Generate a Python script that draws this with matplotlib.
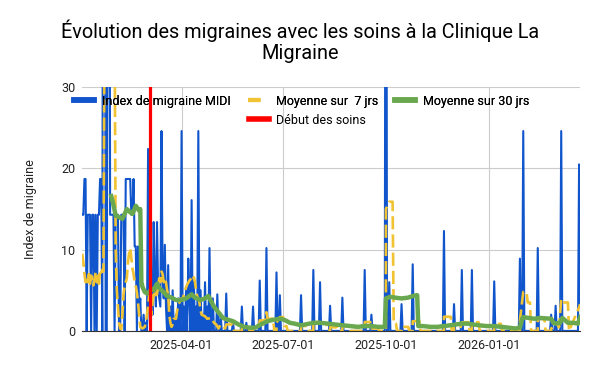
import matplotlib
matplotlib.use("Agg")
import matplotlib.pyplot as plt
from matplotlib.lines import Line2D
import pandas as pd

plt.rcParams['font.family'] = ['Roboto', 'DejaVu Sans']

# Données (jours comptés depuis le 2025-01-02)
debut = "2025-01-02"
nb_jours = 447

# Index de migraine MIDI : jours avec une valeur, 0 les autres jours
jours_midi = [0, 1, 2, 3, 5, 6, 7, 9, 10, 12, 14, 15, 16, 17, 19, 20, 23, 24, 25, 26, 27, 28,
              30, 31, 32, 35, 36, 37, 39, 40, 41, 42, 43, 44, 45, 46, 47, 48, 50, 51, 52, 55, 57,
              59, 60, 62, 63, 64, 65, 66, 67, 68, 69, 70, 71, 72, 73, 74, 75, 77,
              79, 81, 84, 86, 89, 91, 93, 95, 96, 98, 100, 102, 104, 106, 108, 110,
              112, 114, 117, 121, 124, 129, 135, 143, 147, 153, 159, 165, 174, 177,
              196, 207, 213, 222, 233, 253, 259, 272, 275, 286, 296, 324, 333, 340,
              349, 369, 392, 395, 408, 420, 424, 429, 445, 446]
index_midi = [14.3, 14.3, 18.7, 18.7, 14.3, 14.3, 14.3, 14.3, 14.3, 14.3, 14.3, 14.3, 18.7, 18.7, 95, 95, 60, 100, 14.3, 14.3, 14.3, 14.3,
              14.3, 14.3, 14.3, 14.3, 14.3, 14.3, 18.7, 18.7, 18.7, 18.7, 18.7, 14.3, 14.3, 18.7, 10.4, 10.4, 10.4, 2, 4, 2, 1,
              22.4, 3, 5, 2, 13.4, 6, 3, 13.4, 5, 4, 3, 24.6, 7, 4, 10.6, 3, 8.1,
              3, 5, 2, 4, 24.6, 3, 5, 8.9, 4, 16.1, 6, 3, 24.6, 5, 2, 6,
              3, 10.2, 4, 4.5, 2, 4.6, 1, 3.0, 1, 3.0, 6.2, 10.2, 7.2, 4.4,
              4.4, 7.5, 6.0, 3.1, 4.1, 7.5, 2.0, 105, 6.0, 3.3, 8.2, 12.3, 3.3, 7.5,
              7.5, 6.1, 8.9, 24.6, 10.2, 2.0, 3.1, 24.6, 20.5, 3.0]

# Moyenne sur 7 jours
jours_7j = [0, 1, 2, 3, 4, 5, 6, 7, 8, 9, 10, 11, 12, 13, 14, 15, 16, 17, 18, 19, 20, 29, 30, 31, 32, 33, 34, 35,
            36, 37, 38, 39, 40, 41, 42, 43, 44, 45, 46, 47, 48, 49, 50, 51, 52, 54, 56, 57, 58, 59, 60,
            61, 62, 63, 64, 65, 66, 67, 68, 69, 70, 71, 72, 73, 74, 75, 76, 77, 78, 79, 80, 81, 82, 84,
            85, 86, 87, 89, 90, 91, 92, 94, 96, 98, 99, 100, 101, 102, 103, 104, 105, 106, 107, 110, 112,
            116, 117, 118, 120, 122, 124, 126, 128, 129, 135, 136,
            143, 143, 149, 150, 153, 153, 158, 159, 164, 165, 166, 171, 172, 174, 174, 177, 180, 181, 183, 184,
            196, 196, 202, 203, 207, 207, 212, 213, 219, 220, 222, 222, 228, 229, 233, 233, 239, 240,
            253, 253, 258, 259, 265, 266, 272, 272, 275, 278, 279, 281, 282, 286, 286, 292, 293,
            296, 296, 302, 303, 324, 324, 330, 331, 333, 333, 339, 340, 346, 347, 349, 349, 355, 356,
            369, 369, 375, 376, 392, 392, 395, 398, 399, 401, 402, 408, 408, 414, 415,
            420, 420, 424, 426, 427, 429, 430, 435, 436, 445, 446]
moy_7j = [9.5, 8.5, 7, 6, 6.5, 6, 7, 5.8, 6.8, 6.2, 5.6, 6.4, 7.2, 6, 6.8, 5.8, 7.5, 7.2, 7.5, 7.3, 38, 38, 10, 5, 3, 1, 0.3, 0.2,
          2, 4.5, 5.5, 6, 6.5, 8.5, 9.6, 10.2, 9, 7.7, 7, 6, 5.5, 4.7, 3.5, 2, 0.5, 0.3, 0.5, 1, 2, 3, 4.5,
          4, 2, 3.5, 4.5, 4, 4.7, 4.5, 5.5, 6.5, 6, 7.3, 7, 6, 6.5, 6, 5, 4.5, 2, 1, 0.5, 0.8, 1.5, 1.5,
          2.5, 3, 3.5, 4, 3.8, 4.5, 5, 5.7, 6.2, 6.5, 6.2, 6.6, 6, 5, 4.3, 4, 3.5, 2.5, 2, 1.8, 1.5,
          1.6, 1.3, 1, 0.8, 0.3, 0.8, 0.6, 0.3, 0.8, 0.8, 0,
          0, 0.4, 0.4, 0, 0, 0.4, 0.4, 1.3, 1.3, 2.3, 1.5, 1.5, 0, 0, 1.0, 1.7, 1.7, 0.6, 0.6, 0,
          0, 0.6, 0.6, 0, 0, 1.1, 1.1, 0.9, 0.9, 0, 0, 0.45, 0.45, 0, 0, 0.6, 0.6, 0,
          0, 1.1, 1.1, 0.3, 0.3, 0, 0, 15, 15.9, 15.9, 0.9, 0.9, 0, 0, 0.5, 0.5, 0,
          0, 1.2, 1.2, 0, 0, 1.75, 1.75, 0, 0, 0.5, 0.5, 1.07, 1.07, 0, 0, 1.07, 1.07, 0,
          0, 0.87, 0.87, 0, 0, 1.27, 4.8, 4.8, 3.5, 3.5, 0, 0, 1.46, 1.46, 0,
          0, 0.3, 0.74, 0.74, 0.44, 3.9, 3.5, 3.5, 0, 2.9, 3.3]

# Moyenne sur 30 jours
jours_30j = [26, 28, 30, 33, 36, 40, 43, 45, 48, 51, 52, 53, 54, 56, 58, 60, 62, 64, 67, 69, 72, 76, 80,
             84, 88, 93, 98, 101, 106, 110, 113, 118, 122, 126, 130, 135, 140, 145, 150, 155, 160, 166,
             172, 178, 182, 186, 190, 196, 200, 207, 213, 220, 226, 233, 240, 247, 253, 259, 265, 271,
             272, 276, 280, 286, 292, 296, 300, 301, 305, 312, 318, 324, 330, 335, 340, 345, 350, 355,
             362, 369, 375, 382, 388, 392, 394, 395, 400, 405, 410, 420, 422, 424, 428, 430, 435, 440,
             444, 446]
moy_30j = [16.6, 15.5, 14.2, 14, 13.8, 15, 14.6, 14.4, 15.4, 14.8, 15, 6, 5.4, 4.8, 4.6, 4.8, 5.2, 5.0, 5.8, 5.3, 4.9, 4.3, 4.1,
           3.8, 3.8, 4.0, 4.5, 4.1, 3.8, 4.0, 4.3, 3.0, 2.3, 1.6, 1.4, 1.2, 0.8, 0.5, 0.4, 0.4, 0.8, 1.2,
           1.4, 1.5, 1.3, 1.0, 0.9, 0.7, 0.8, 1.0, 1.0, 0.9, 0.8, 0.7, 0.6, 0.5, 0.6, 0.6, 0.5, 0.5,
           4.0, 4.2, 4.1, 4.0, 4.1, 4.3, 4.4, 0.6, 0.6, 0.5, 0.5, 0.6, 0.7, 0.8, 0.9, 0.9, 0.8, 0.7,
           0.6, 0.6, 0.5, 0.4, 0.3, 0.4, 1.5, 1.7, 1.6, 1.5, 1.6, 1.5, 1.0, 0.9, 1.0, 1.6, 1.0, 1.0,
           0.9, 1.7]

debut_soins = "2025-03-04"

ticks_x = ["2025-04-01", "2025-07-01", "2025-10-01", "2026-01-01"]
ticks_y = [0, 10, 20, 30]

t0 = pd.Timestamp(debut)
dates = pd.date_range(debut, periods=nb_jours, freq="D")
serie = pd.Series(0.0, index=dates)
serie.iloc[jours_midi] = index_midi
x7 = t0 + pd.to_timedelta(jours_7j, unit="D")
x30 = t0 + pd.to_timedelta(jours_30j, unit="D")

bleu = "#1155cc"
jaune = "#f1c232"
vert = "#6aa84f"
rouge = "#ff0000"

fig = plt.figure(figsize=(6, 3.71), dpi=100)
ax = fig.add_axes([0.137, 0.108, 0.83, 0.657])

ax.plot(serie.index, serie.values, color=bleu, lw=1.5, zorder=2)
ax.plot(x7, moy_7j, color=jaune, lw=1.9, dashes=(5, 1.9), zorder=3)
ax.plot(x30, moy_30j, color=vert, lw=3.2, zorder=4)
ax.axvline(pd.Timestamp(debut_soins), color=rouge, lw=2.3, zorder=5)

ax.set_xlim(dates[0], dates[-1])
ax.set_ylim(0, 30)
ax.set_xticks(pd.to_datetime(ticks_x))
ax.set_xticklabels(ticks_x)
ax.set_yticks(ticks_y)
ax.grid(color="#cccccc", lw=0.8, zorder=0)
ax.set_axisbelow(True)
for s in ["top", "right", "left"]:
    ax.spines[s].set_visible(False)
ax.spines["bottom"].set_color("#333333")
ax.spines["bottom"].set_zorder(6)
ax.tick_params(length=0, labelsize=9, colors="#222222")
ax.tick_params(axis="x", pad=6)
ax.tick_params(axis="y", pad=5)

ax.set_ylabel("Index de migraine", fontsize=9, color="#222222")
ax.yaxis.set_label_coords(-0.09, 0.5)

fig.text(0.5, 1 - 20 / 371, "Évolution des migraines avec les soins à la Clinique La\nMigraine",
         ha="center", va="top", fontsize=14.3, linespacing=1.1, color="#000000")

h1 = [Line2D([], [], color=bleu, lw=4),
      Line2D([], [], color=jaune, lw=3, dashes=(3, 2)),
      Line2D([], [], color=vert, lw=4)]
leg1 = fig.legend(h1, ["Index de migraine MIDI", "Moyenne sur  7 jrs", "Moyenne sur 30 jrs"],
                  loc="center", bbox_to_anchor=(0.503, 1 - 101 / 371), ncol=3, frameon=False,
                  fontsize=9, handlelength=1.6, columnspacing=1.4, handletextpad=0.6)
fig.legend([Line2D([], [], color=rouge, lw=4)], ["Début des soins"],
           loc="center", bbox_to_anchor=(0.512, 1 - 120 / 371), frameon=False,
           fontsize=9, handlelength=1.6, handletextpad=0.6)
fig.add_artist(leg1)

fig.savefig("out.png", dpi=100)
